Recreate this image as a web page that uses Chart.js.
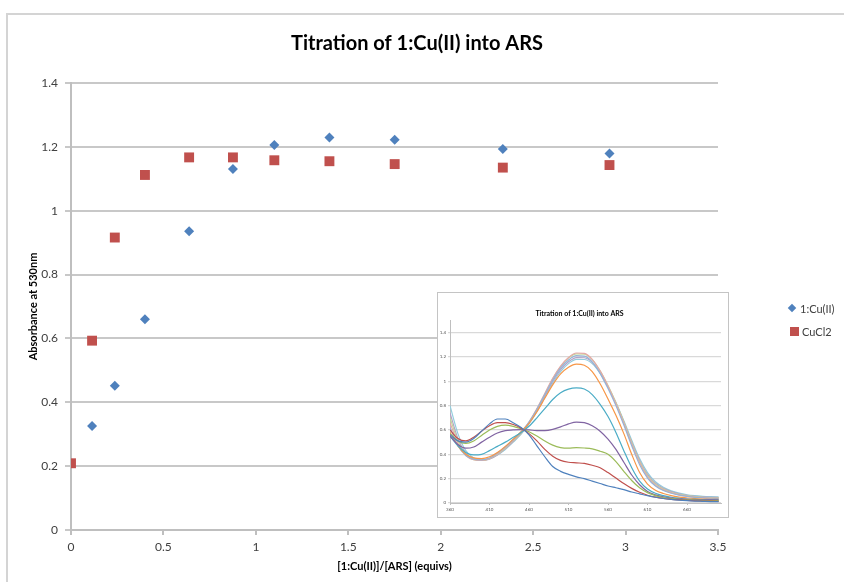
<!DOCTYPE html>
<html>
<head>
<meta charset="utf-8">
<script src="https://cdn.jsdelivr.net/npm/chart.js@4.4.1/dist/chart.umd.min.js"></script>
<style>
html, body { margin: 0; padding: 0; background: #fff; }
#wrap { position: relative; width: 844px; height: 582px; overflow: hidden; }
#frame { position: absolute; left: 6px; top: 13px; width: 900px; height: 700px;
  border-left: 2px solid #d4d4d4; border-top: 2px solid #d4d4d4; }
#main { position: absolute; left: 0; top: 0; }
#insetBox { position: absolute; left: 437px; top: 292px; width: 290px; height: 224px;
  border: 1px solid #c4c4c4; background: #fff; }
#spec { position: absolute; left: 0; top: 0; }
.leg { position: absolute; font: 11px Lato, sans-serif; color: #404040; line-height: 12px; }
.leg .mk { position: absolute; left: -11px; }
.leg .dia { top: 2px; width: 6px; height: 6px; background: #4F81BD; transform: rotate(45deg); }
.leg .sq { top: 1px; width: 9px; height: 9px; background: #C0504D; left: -12px; }
</style>
</head>
<body>
<div id="wrap">
  <div id="frame"></div>
  <canvas id="main" width="844" height="582"></canvas>
  <div id="insetBox"><canvas id="spec" width="290" height="224"></canvas></div>
  <div class="leg" style="left:800px; top:303px;"><span class="mk dia"></span>1:Cu(II)</div>
  <div class="leg" style="left:802px; top:326px;"><span class="mk sq"></span>CuCl2</div>
</div>
<script>
// main titration data (absorbance at 530 nm)
const ligandEquivs = [0.114, 0.237, 0.400, 0.639, 0.876, 1.100, 1.398, 1.751, 2.336, 2.913];
const ligandAbs = [0.326, 0.452, 0.660, 0.936, 1.131, 1.206, 1.229, 1.222, 1.193, 1.179];
const cuCl2Equivs = [0, 0.114, 0.237, 0.400, 0.639, 0.876, 1.100, 1.398, 1.751, 2.336, 2.913];
const cuCl2Abs = [0.209, 0.593, 0.916, 1.112, 1.167, 1.167, 1.158, 1.155, 1.146, 1.135, 1.143];

// inset spectra, 360-700 nm every 10 nm
const wavelengths = [360, 370, 380, 390, 400, 410, 420, 430, 440, 450, 460, 470, 480, 490, 500, 510, 520,
  530, 540, 550, 560, 570, 580, 590, 600, 610, 620, 630, 640, 650, 660, 670, 680, 690, 700];
const specARS = [0.56, 0.51, 0.50, 0.53, 0.59, 0.65, 0.69, 0.69, 0.66, 0.62, 0.56, 0.47, 0.38, 0.30, 0.26, 0.235, 0.215,
  0.20, 0.18, 0.16, 0.14, 0.125, 0.11, 0.09, 0.075, 0.06, 0.047, 0.037, 0.029, 0.023, 0.019, 0.016, 0.014, 0.012, 0.011];
const spec1 = [0.60, 0.53, 0.51, 0.54, 0.59, 0.635, 0.66, 0.66, 0.645, 0.615, 0.57, 0.51, 0.44, 0.385, 0.35, 0.335, 0.33,
  0.325, 0.31, 0.29, 0.25, 0.205, 0.16, 0.12, 0.088, 0.064, 0.048, 0.037, 0.03, 0.025, 0.021, 0.018, 0.016, 0.015, 0.014];
const spec2 = [0.57, 0.51, 0.49, 0.51, 0.555, 0.60, 0.63, 0.64, 0.63, 0.61, 0.585, 0.55, 0.51, 0.475, 0.455, 0.45, 0.455,
  0.452, 0.445, 0.425, 0.40, 0.34, 0.26, 0.185, 0.125, 0.085, 0.06, 0.045, 0.036, 0.03, 0.026, 0.023, 0.021, 0.02, 0.019];
const spec3 = [0.55, 0.48, 0.45, 0.46, 0.50, 0.54, 0.575, 0.595, 0.60, 0.603, 0.60, 0.595, 0.595, 0.605, 0.625, 0.65, 0.665,
  0.66, 0.635, 0.59, 0.525, 0.44, 0.335, 0.23, 0.15, 0.095, 0.067, 0.05, 0.04, 0.034, 0.03, 0.028, 0.026, 0.025, 0.024];
const spec4 = [0.55, 0.47, 0.415, 0.395, 0.40, 0.43, 0.465, 0.50, 0.54, 0.58, 0.63, 0.70, 0.775, 0.85, 0.905, 0.935, 0.945,
  0.936, 0.89, 0.81, 0.71, 0.58, 0.43, 0.29, 0.18, 0.115, 0.08, 0.06, 0.047, 0.039, 0.033, 0.03, 0.028, 0.026, 0.025];
const spec5 = [0.58, 0.47, 0.40, 0.37, 0.365, 0.38, 0.415, 0.465, 0.525, 0.585, 0.655, 0.75, 0.86, 0.97, 1.06, 1.115, 1.14,
  1.131, 1.08, 0.98, 0.855, 0.72, 0.57, 0.40, 0.25, 0.155, 0.105, 0.078, 0.06, 0.048, 0.041, 0.036, 0.033, 0.031, 0.03];
const spec6 = [0.62, 0.47, 0.39, 0.36, 0.355, 0.37, 0.41, 0.46, 0.52, 0.585, 0.665, 0.77, 0.89, 1.01, 1.11, 1.175, 1.21,
  1.206, 1.16, 1.065, 0.94, 0.80, 0.64, 0.47, 0.315, 0.205, 0.14, 0.103, 0.08, 0.064, 0.054, 0.047, 0.042, 0.039, 0.037];
const spec7 = [0.66, 0.49, 0.39, 0.355, 0.35, 0.365, 0.405, 0.455, 0.515, 0.58, 0.665, 0.775, 0.90, 1.025, 1.125, 1.195, 1.232,
  1.229, 1.18, 1.085, 0.96, 0.815, 0.655, 0.485, 0.33, 0.215, 0.147, 0.108, 0.084, 0.067, 0.056, 0.049, 0.044, 0.041, 0.039];
const spec8 = [0.70, 0.51, 0.40, 0.355, 0.35, 0.365, 0.40, 0.45, 0.51, 0.575, 0.66, 0.77, 0.895, 1.02, 1.12, 1.19, 1.225,
  1.222, 1.178, 1.085, 0.965, 0.825, 0.665, 0.495, 0.34, 0.225, 0.155, 0.114, 0.088, 0.071, 0.06, 0.052, 0.047, 0.044, 0.042];
const spec9 = [0.74, 0.53, 0.41, 0.36, 0.35, 0.36, 0.395, 0.445, 0.505, 0.57, 0.655, 0.76, 0.88, 1.0, 1.095, 1.16, 1.195,
  1.193, 1.155, 1.07, 0.955, 0.82, 0.665, 0.50, 0.35, 0.235, 0.162, 0.12, 0.093, 0.075, 0.063, 0.055, 0.05, 0.047, 0.045];
const spec10 = [0.80, 0.57, 0.43, 0.37, 0.355, 0.365, 0.395, 0.44, 0.50, 0.565, 0.65, 0.75, 0.87, 0.985, 1.08, 1.145, 1.18,
  1.179, 1.145, 1.065, 0.955, 0.825, 0.675, 0.515, 0.365, 0.25, 0.175, 0.13, 0.1, 0.081, 0.068, 0.06, 0.055, 0.052, 0.05];

const insetXTicks = [360, 410, 460, 510, 560, 610, 660];
const insetYTicks = [0, 0.2, 0.4, 0.6, 0.8, 1, 1.2, 1.4];

const spectra = [specARS, spec1, spec2, spec3, spec4, spec5, spec6, spec7, spec8, spec9, spec10];
const specColors = ['#4F81BD', '#C0504D', '#9BBB59', '#8064A2', '#4BACC6', '#F79646',
  '#95B3D7', '#E6A8A6', '#C3D69B', '#B3A2C7', '#93CDDD'];

const fontFam = 'Lato, "Open Sans", sans-serif';
const fmt = v => String(+Number(v).toFixed(2));

new Chart(document.getElementById('main'), {
    type: 'scatter',
    data: {
        datasets: [
            {
                label: '1:Cu(II)',
                data: ligandEquivs.map((x, i) => ({ x: x, y: ligandAbs[i] })),
                pointStyle: 'rectRot',
                pointRadius: 5,
                backgroundColor: '#4F81BD',
                borderColor: '#4F81BD',
                borderWidth: 0
            },
            {
                label: 'CuCl2',
                data: cuCl2Equivs.map((x, i) => ({ x: x, y: cuCl2Abs[i] })),
                pointStyle: 'rect',
                pointRadius: 7,
                backgroundColor: '#C0504D',
                borderColor: '#C0504D',
                borderWidth: 0
            }
        ]
    },
    options: {
        responsive: false,
        animation: false,
        layout: { padding: { left: 0, right: 10, top: 0, bottom: 0 } },
        plugins: {
            legend: { display: false },
            tooltip: { enabled: false },
            title: {
                display: true,
                text: 'Titration of 1:Cu(II) into ARS',
                color: '#000',
                font: { family: fontFam, size: 20, weight: 'bold' },
                padding: { top: 32, bottom: 27 }
            }
        },
        scales: {
            x: {
                type: 'linear',
                min: 0,
                max: 3.5,
                ticks: { stepSize: 0.5, color: '#404040', padding: 5, font: { family: fontFam, size: 12 }, callback: fmt },
                grid: { drawOnChartArea: false, tickLength: 5, color: '#bfbfbf', lineWidth: 2 },
                border: { color: '#bfbfbf', width: 2 },
                title: {
                    display: true,
                    text: '[1:Cu(II)]/[ARS] (equivs)',
                    color: '#000',
                    font: { family: fontFam, size: 11, weight: 'bold' },
                    padding: { top: 0, bottom: 9 }
                },
                afterFit: function(scale) { scale.height = 52; }
            },
            y: {
                min: 0,
                max: 1.4,
                ticks: { stepSize: 0.2, color: '#404040', padding: 7, font: { family: fontFam, size: 12 }, callback: fmt },
                grid: { color: '#c8c8c8', lineWidth: 2, tickLength: 6 },
                border: { color: '#bfbfbf', width: 2 },
                title: {
                    display: true,
                    text: 'Absorbance at 530nm',
                    color: '#000',
                    font: { family: fontFam, size: 11, weight: 'bold' },
                    padding: { top: 27, bottom: 0 }
                },
                afterFit: function(scale) { scale.width = 71; }
            },
            // empty right-hand box that reserves the legend space
            side: {
                type: 'linear',
                position: 'right',
                display: true,
                ticks: { display: false },
                grid: { display: false },
                border: { display: false },
                afterFit: function(scale) { scale.width = 116; }
            }
        }
    }
});

new Chart(document.getElementById('spec'), {
    type: 'line',
    data: {
        datasets: spectra.map((s, i) => ({
            label: 'Spectrum ' + i,
            data: wavelengths.map((w, j) => ({ x: w, y: s[j] })),
            borderColor: specColors[i],
            borderWidth: 1.2,
            pointRadius: 0,
            cubicInterpolationMode: 'monotone',
            fill: false
        }))
    },
    options: {
        responsive: false,
        animation: false,
        layout: { padding: { left: 0, right: 7, top: 0, bottom: 0 } },
        plugins: {
            legend: { display: false },
            tooltip: { enabled: false },
            title: {
                display: true,
                text: 'Titration of 1:Cu(II) into ARS',
                color: '#000',
                font: { family: fontFam, size: 7, weight: 'bold' },
                padding: { top: 17, bottom: 2 }
            }
        },
        scales: {
            x: {
                type: 'linear',
                min: 360,
                max: 703,
                afterBuildTicks: function(scale) { scale.ticks = insetXTicks.map(v => ({ value: v })); },
                ticks: { color: '#555', padding: 2, font: { family: fontFam, size: 4.5 }, callback: fmt, autoSkip: false, maxRotation: 0 },
                grid: { drawOnChartArea: false, tickLength: 2, color: '#bfbfbf' },
                border: { color: '#bfbfbf', width: 1 },
                afterFit: function(scale) { scale.height = 14; }
            },
            y: {
                min: 0,
                max: 1.5,
                afterBuildTicks: function(scale) { scale.ticks = insetYTicks.map(v => ({ value: v })); },
                ticks: { color: '#555', padding: 2, font: { family: fontFam, size: 4.5 }, callback: fmt },
                grid: { color: '#d9d9d9', lineWidth: 1.2, tickLength: 2 },
                border: { color: '#bfbfbf', width: 1 },
                afterFit: function(scale) { scale.width = 12; }
            }
        }
    }
});
</script>
</body>
</html>
